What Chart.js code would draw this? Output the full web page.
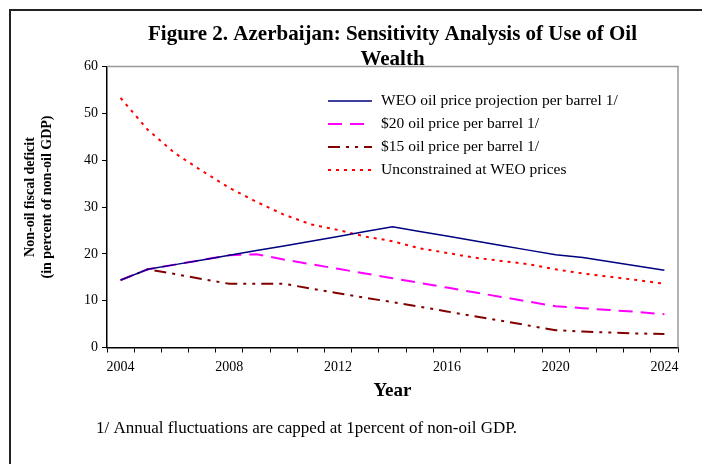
<!DOCTYPE html>
<html>
<head>
<meta charset="utf-8">
<script src="https://cdn.jsdelivr.net/npm/chart.js@4.4.1/dist/chart.umd.min.js"></script>
<style>
  html, body { margin: 0; padding: 0; background: #fff; }
  #wrap { width: 702px; height: 464px; position: relative; }
</style>
</head>
<body>
<div id="wrap"><canvas id="chart"></canvas></div>
<script>
// Figure 2. Azerbaijan: sensitivity analysis of use of oil wealth
const years = ['2004', '2005', '2006', '2007', '2008', '2009', '2010', '2011', '2012', '2013', '2014',
               '2015', '2016', '2017', '2018', '2019', '2020', '2021', '2022', '2023', '2024'];

const weoPrice = [14.4, 16.7, 17.7, 18.7, 19.7, 20.7, 21.7, 22.7, 23.7, 24.8, 25.8,
                  24.8, 23.8, 22.8, 21.8, 20.8, 19.8, 19.2, 18.3, 17.4, 16.5];
const price20 = [14.4, 16.7, 17.7, 18.7, 19.7, 19.9, 18.8, 17.8, 16.8, 15.8, 14.8,
                 13.8, 12.8, 11.8, 10.8, 9.8, 8.8, 8.4, 8.0, 7.6, 7.1];
const price15 = [14.4, 16.7, 15.7, 14.6, 13.6, 13.6, 13.6, 12.6, 11.6, 10.6, 9.7,
                 8.7, 7.7, 6.7, 5.7, 4.7, 3.7, 3.4, 3.2, 3.0, 2.9];
const unconstrained = [53.3, 46.5, 41.5, 37.7, 34.1, 31.1, 28.4, 26.3, 25.1, 23.7, 22.7,
                       21.2, 20.2, 19.2, 18.5, 17.8, 16.7, 15.8, 15.1, 14.4, 13.6];

const seriesLabels = [
  'WEO oil price projection per barrel 1/',
  '$20 oil price per barrel 1/',
  '$15 oil price per barrel 1/',
  'Unconstrained at WEO prices'
];
const yTitle = ['Non-oil fiscal deficit', '(in percent of non-oil GDP)'];
const footnote = '1/ Annual fluctuations are capped at 1percent of non-oil GDP.';

const serif = '"Liberation Serif", "Times New Roman", serif';

// frame, plot box, y title, legend inside the plot and the footnote
const decorations = {
  id: 'decorations',
  beforeDraw(chart) {
    const ctx = chart.ctx;
    ctx.save();
    ctx.fillStyle = '#fff';
    ctx.fillRect(0, 0, chart.width, chart.height);
    ctx.strokeStyle = '#222';
    ctx.lineWidth = 2;
    ctx.beginPath();
    ctx.moveTo(10, chart.height);
    ctx.lineTo(10, 10);
    ctx.lineTo(chart.width, 10);
    ctx.stroke();
    ctx.restore();
  },
  afterDatasetsDraw(chart) {
    const ctx = chart.ctx;
    const a = chart.chartArea;
    ctx.save();
    ctx.strokeStyle = '#999';
    ctx.lineWidth = 1.5;
    ctx.beginPath();
    ctx.moveTo(a.left, a.top);
    ctx.lineTo(a.right, a.top);
    ctx.lineTo(a.right, a.bottom);
    ctx.stroke();

    // y axis title, two rotated lines
    ctx.fillStyle = '#000';
    ctx.font = 'bold 14px ' + serif;
    ctx.textAlign = 'center';
    ctx.textBaseline = 'middle';
    yTitle.forEach((t, i) => {
      ctx.save();
      ctx.translate(30 + i * 17, 197);
      ctx.rotate(-Math.PI / 2);
      ctx.fillText(t, 0, 0);
      ctx.restore();
    });

    // legend
    ctx.textAlign = 'left';
    ctx.font = '15.5px ' + serif;
    chart.data.datasets.forEach((ds, i) => {
      const y = 101 + i * 23;
      ctx.strokeStyle = ds.borderColor;
      ctx.lineWidth = ds.borderWidth;
      ctx.setLineDash(ds.borderDash || []);
      ctx.beginPath();
      ctx.moveTo(328, y);
      ctx.lineTo(372, y);
      ctx.stroke();
      ctx.setLineDash([]);
      ctx.fillText(ds.label, 381, y);
    });

    ctx.font = '17px ' + serif;
    ctx.fillText(footnote, 96, 429);
    ctx.restore();
  }
};

new Chart(document.getElementById('chart'), {
  type: 'line',
  data: {
    labels: years,
    datasets: [
      { label: seriesLabels[0], data: weoPrice, borderColor: '#000080', borderWidth: 1.5 },
      { label: seriesLabels[1], data: price20, borderColor: '#ff00ff', borderWidth: 2, borderDash: [14, 8] },
      { label: seriesLabels[2], data: price15, borderColor: '#800000', borderWidth: 2, borderDash: [12, 6, 3, 6, 3, 6] },
      { label: seriesLabels[3], data: unconstrained, borderColor: '#ff0000', borderWidth: 2, borderDash: [3, 5] }
    ]
  },
  options: {
    responsive: true,
    maintainAspectRatio: false,
    animation: false,
    layout: { padding: { top: 8, left: 0, right: 24, bottom: 56.5 } },
    elements: { point: { radius: 0 }, line: { tension: 0, fill: false } },
    plugins: {
      legend: { display: false },
      tooltip: { enabled: false },
      title: {
        display: true,
        fullSize: false,
        text: ['Figure 2. Azerbaijan: Sensitivity Analysis of Use of Oil', 'Wealth'],
        color: '#000',
        font: { family: serif, size: 21, weight: 'bold', lineHeight: 1.15 },
        padding: { top: 15, bottom: -4.7 }
      }
    },
    scales: {
      x: {
        type: 'category',
        offset: true,
        grid: { offset: true, drawOnChartArea: false, tickLength: 5, color: '#000' },
        border: { color: '#000', width: 1.5 },
        ticks: {
          autoSkip: false,
          maxRotation: 0,
          padding: 6,
          color: '#000',
          font: { family: serif, size: 14 },
          callback: function (value, index) { return index % 4 === 0 ? this.getLabelForValue(value) : ''; }
        },
        title: {
          display: true,
          text: 'Year',
          color: '#000',
          font: { family: serif, size: 19, weight: 'bold' },
          padding: { top: 0, bottom: 5 }
        },
        afterFit(scale) { scale.height = 60; }
      },
      y: {
        min: 0,
        max: 60,
        grid: { drawOnChartArea: false, tickLength: 5, color: '#000' },
        border: { color: '#000', width: 1.5 },
        ticks: {
          stepSize: 10,
          padding: 4,
          color: '#000',
          font: { family: serif, size: 14 }
        },
        afterFit(scale) { scale.width = 107; }
      }
    }
  },
  plugins: [decorations]
});
</script>
</body>
</html>
